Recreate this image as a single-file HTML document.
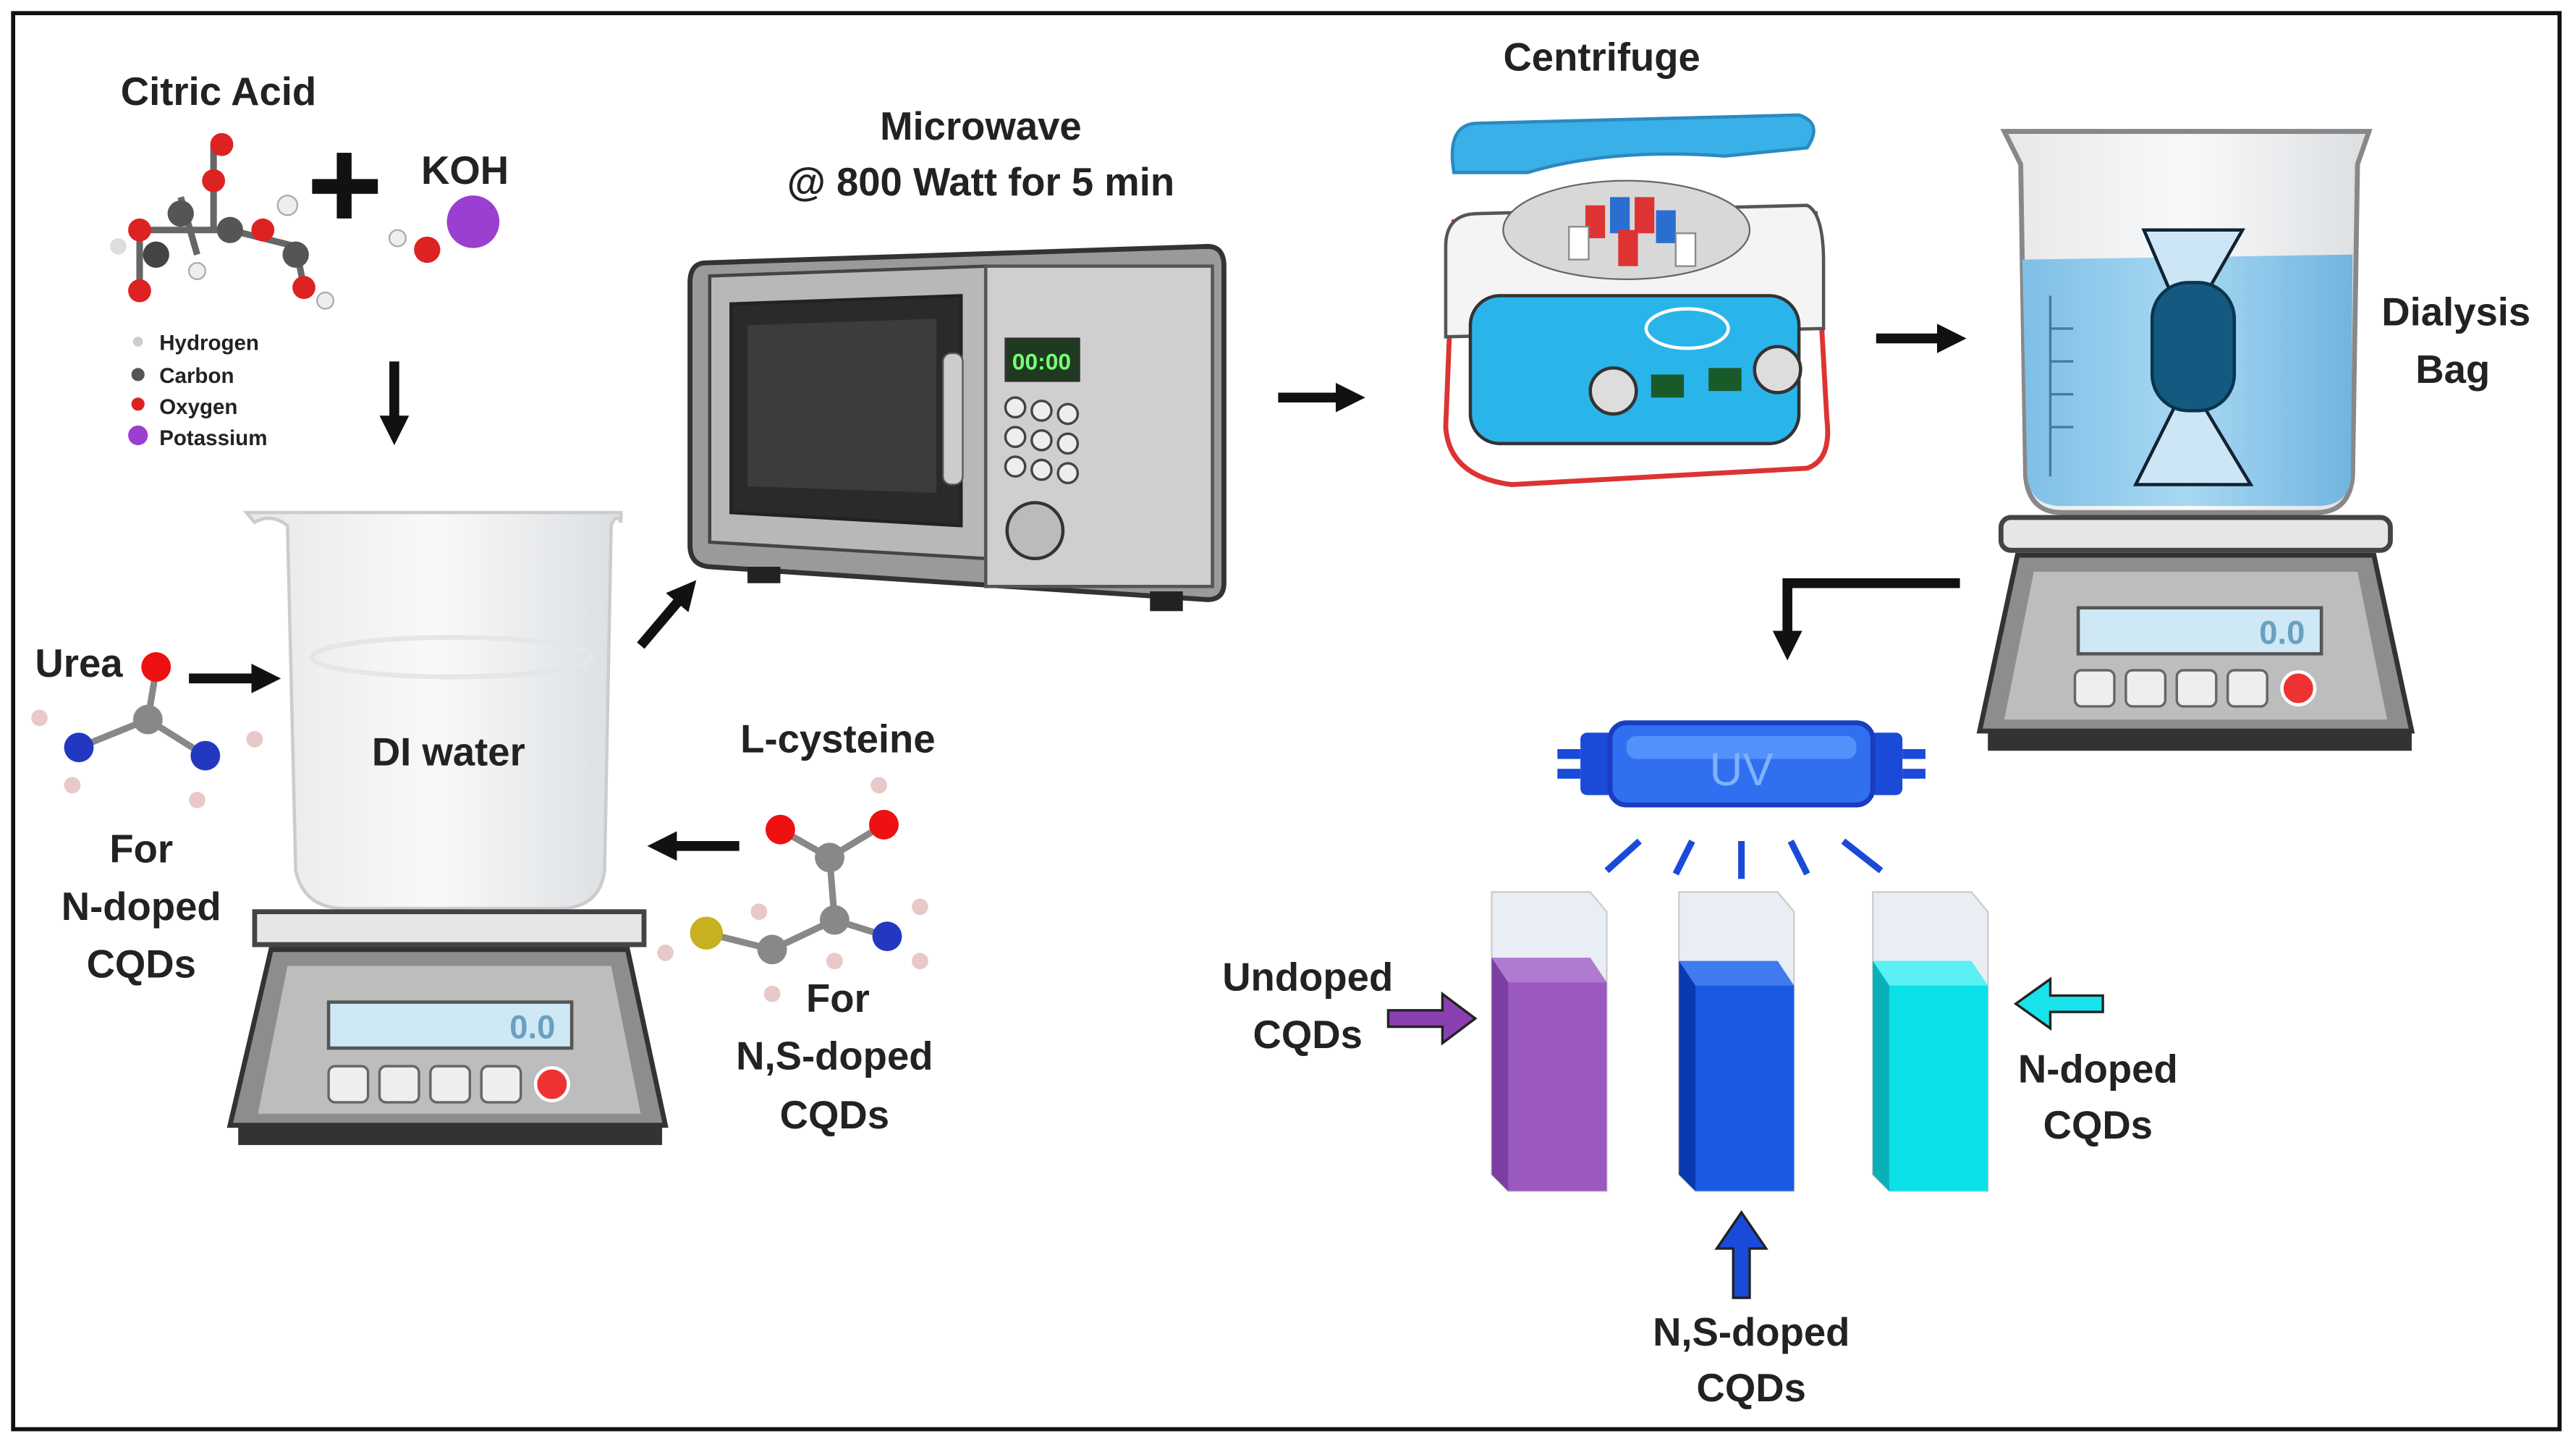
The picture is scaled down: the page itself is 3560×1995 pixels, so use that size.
<!DOCTYPE html>
<html><head><meta charset="utf-8"><style>
html,body{margin:0;padding:0;background:#fff;}
svg{display:block;}
text{font-family:"Liberation Sans",sans-serif;font-weight:bold;fill:#222;}
</style></head><body>
<svg width="3560" height="1995" viewBox="0 0 1568 879" preserveAspectRatio="none" xmlns="http://www.w3.org/2000/svg">
<defs>
<marker id="ah" viewBox="0 0 10 10" refX="5" refY="5" markerWidth="3" markerHeight="3" orient="auto"><path d="M0,0L10,5L0,10z" fill="#111"/></marker>
<linearGradient id="glass" x1="0" x2="1"><stop offset="0" stop-color="#e6e8ea"/><stop offset=".5" stop-color="#f8f9fa"/><stop offset="1" stop-color="#dcdfe2"/></linearGradient>
<linearGradient id="water" x1="0" x2="1"><stop offset="0" stop-color="#7fbfe6"/><stop offset=".5" stop-color="#a8d8f2"/><stop offset="1" stop-color="#70b4df"/></linearGradient>
</defs>
<rect x="8" y="8" width="1550" height="862" fill="#fff" stroke="#111" stroke-width="2.5"/>

<!-- Citric acid -->
<text x="133" y="64" font-size="24" text-anchor="middle">Citric Acid</text>
<text x="283" y="112" font-size="24" text-anchor="middle">KOH</text>
<rect x="190" y="109" width="40" height="9" fill="#111"/><rect x="205" y="93" width="9" height="40" fill="#111"/>
<g stroke="#666" stroke-width="4">
<line x1="85" y1="140" x2="140" y2="140"/><line x1="110" y1="120" x2="120" y2="155"/><line x1="140" y1="140" x2="180" y2="150"/><line x1="130" y1="88" x2="130" y2="140"/><line x1="85" y1="140" x2="85" y2="175"/><line x1="180" y1="150" x2="185" y2="175"/>
</g>
<g>
<circle cx="135" cy="88" r="7" fill="#d22"/><circle cx="130" cy="110" r="7" fill="#d22"/><circle cx="110" cy="130" r="8" fill="#555"/><circle cx="140" cy="140" r="8" fill="#555"/><circle cx="85" cy="140" r="7" fill="#d22"/><circle cx="95" cy="155" r="8" fill="#444"/><circle cx="85" cy="177" r="7" fill="#d22"/><circle cx="160" cy="140" r="7" fill="#d22"/><circle cx="175" cy="125" r="6" fill="#eee" stroke="#aaa"/><circle cx="180" cy="155" r="8" fill="#555"/><circle cx="185" cy="175" r="7" fill="#d22"/><circle cx="198" cy="183" r="5" fill="#eee" stroke="#aaa"/><circle cx="120" cy="165" r="5" fill="#eee" stroke="#aaa"/><circle cx="72" cy="150" r="5" fill="#ddd"/>
<circle cx="288" cy="135" r="16" fill="#9b3fd0"/><circle cx="260" cy="152" r="8" fill="#d22"/><circle cx="242" cy="145" r="5" fill="#eee" stroke="#aaa"/>
</g>
<g font-size="13"><circle cx="84" cy="208" r="3" fill="#ccc"/><text x="97" y="213" font-size="13">Hydrogen</text>
<circle cx="84" cy="228" r="4" fill="#555"/><text x="97" y="233" font-size="13">Carbon</text>
<circle cx="84" cy="246" r="4" fill="#d22"/><text x="97" y="252" font-size="13">Oxygen</text>
<circle cx="84" cy="265" r="6" fill="#9b3fd0"/><text x="97" y="271" font-size="13">Potassium</text></g>
<line x1="240" y1="220" x2="240" y2="262" stroke="#111" stroke-width="6" marker-end="url(#ah)"/>

<!-- Beaker 1 + scale -->
<path d="M155,318 Q165,312 175,320 L180,530 Q185,553 210,553 L340,553 Q365,553 368,530 L372,320 Q375,312 378,318 L378,312 L150,312 Z" fill="url(#glass)" stroke="#ccc" stroke-width="2"/>
<ellipse cx="275" cy="400" rx="85" ry="12" fill="none" stroke="#e4e6e8" stroke-width="3"/>
<text x="273" y="466" font-size="24" text-anchor="middle">DI water</text>
<path d="M155,555 L392,555 L392,575 L155,575 Z" fill="#e6e6e6" stroke="#444" stroke-width="3" rx="5"/>
<path d="M165,578 L382,578 L405,685 L140,685 Z" fill="#8d8d8d" stroke="#333" stroke-width="3"/>
<rect x="145" y="685" width="258" height="12" fill="#333"/>
<path d="M175,588 L372,588 L390,678 L157,678 Z" fill="#bdbdbd"/>
<rect x="200" y="610" width="148" height="28" fill="#cfe8f5" stroke="#555" stroke-width="2"/>
<text x="338" y="632" font-size="20" text-anchor="end" fill="#7ab" style="fill:#6aa0c0">0.0</text>
<g fill="#eee" stroke="#666" stroke-width="1.5"><rect x="200" y="649" width="24" height="22" rx="4"/><rect x="231" y="649" width="24" height="22" rx="4"/><rect x="262" y="649" width="24" height="22" rx="4"/><rect x="293" y="649" width="24" height="22" rx="4"/></g>
<circle cx="336" cy="660" r="10" fill="#e33" stroke="#fff" stroke-width="2"/>

<!-- Urea -->
<text x="48" y="412" font-size="24" text-anchor="middle">Urea</text>
<line x1="115" y1="413" x2="162" y2="413" stroke="#111" stroke-width="6" marker-end="url(#ah)"/>
<g stroke="#888" stroke-width="4"><line x1="95" y1="408" x2="90" y2="438"/><line x1="90" y1="438" x2="48" y2="455"/><line x1="90" y1="438" x2="125" y2="460"/></g>
<circle cx="95" cy="406" r="9" fill="#e11"/><circle cx="90" cy="438" r="9" fill="#888"/><circle cx="48" cy="455" r="9" fill="#2238c0"/><circle cx="125" cy="460" r="9" fill="#2238c0"/>
<g fill="#e8c8c8"><circle cx="24" cy="437" r="5"/><circle cx="44" cy="478" r="5"/><circle cx="120" cy="487" r="5"/><circle cx="155" cy="450" r="5"/></g>
<text x="86" y="525" font-size="24" text-anchor="middle">For</text>
<text x="86" y="560" font-size="24" text-anchor="middle">N-doped</text>
<text x="86" y="595" font-size="24" text-anchor="middle">CQDs</text>

<!-- L-cysteine -->
<text x="510" y="458" font-size="24" text-anchor="middle">L-cysteine</text>
<line x1="450" y1="515" x2="403" y2="515" stroke="#111" stroke-width="6" marker-end="url(#ah)"/>
<g stroke="#888" stroke-width="4"><line x1="430" y1="568" x2="470" y2="578"/><line x1="470" y1="578" x2="508" y2="560"/><line x1="508" y1="560" x2="505" y2="522"/><line x1="505" y1="522" x2="475" y2="505"/><line x1="505" y1="522" x2="538" y2="502"/><line x1="508" y1="560" x2="540" y2="570"/></g>
<circle cx="430" cy="568" r="10" fill="#c8b020"/><circle cx="470" cy="578" r="9" fill="#888"/><circle cx="508" cy="560" r="9" fill="#888"/><circle cx="505" cy="522" r="9" fill="#888"/><circle cx="475" cy="505" r="9" fill="#e11"/><circle cx="538" cy="502" r="9" fill="#e11"/><circle cx="540" cy="570" r="9" fill="#2238c0"/>
<g fill="#e8c8c8"><circle cx="405" cy="580" r="5"/><circle cx="470" cy="605" r="5"/><circle cx="462" cy="555" r="5"/><circle cx="508" cy="585" r="5"/><circle cx="560" cy="552" r="5"/><circle cx="560" cy="585" r="5"/><circle cx="535" cy="478" r="5"/></g>
<text x="510" y="616" font-size="24" text-anchor="middle">For</text>
<text x="508" y="651" font-size="24" text-anchor="middle">N,S-doped</text>
<text x="508" y="687" font-size="24" text-anchor="middle">CQDs</text>

<line x1="390" y1="393" x2="418" y2="360" stroke="#111" stroke-width="6" marker-end="url(#ah)"/>

<!-- Microwave -->
<text x="597" y="85" font-size="24" text-anchor="middle">Microwave</text>
<text x="597" y="119" font-size="24" text-anchor="middle">@ 800 Watt for 5 min</text>
<path d="M430,160 L735,150 Q745,150 745,162 L745,355 Q745,365 735,365 L432,345 Q420,344 420,332 L420,172 Q420,160 430,160Z" fill="#9a9a9a" stroke="#333" stroke-width="3"/>
<path d="M432,168 L600,162 L600,340 L432,330Z" fill="#b8b8b8" stroke="#444" stroke-width="2"/>
<path d="M445,185 L585,180 L585,320 L445,312Z" fill="#2a2a2a" stroke="#222" stroke-width="2"/>
<path d="M455,198 L570,194 L570,300 L455,296Z" fill="#3c3c3c"/>
<rect x="574" y="215" width="12" height="80" rx="5" fill="#ccc" stroke="#555"/>
<rect x="600" y="162" width="138" height="195" fill="#cfcfcf" stroke="#555" stroke-width="2"/>
<rect x="612" y="206" width="45" height="26" fill="#1f3a1f" stroke="#333"/>
<text x="634" y="225" font-size="14" text-anchor="middle" style="fill:#7f7">00:00</text>
<g fill="#eee" stroke="#444" stroke-width="1.5"><circle cx="618" cy="248" r="6"/><circle cx="634" cy="250" r="6"/><circle cx="650" cy="252" r="6"/><circle cx="618" cy="266" r="6"/><circle cx="634" cy="268" r="6"/><circle cx="650" cy="270" r="6"/><circle cx="618" cy="284" r="6"/><circle cx="634" cy="286" r="6"/><circle cx="650" cy="288" r="6"/></g>
<circle cx="630" cy="323" r="17" fill="#bbb" stroke="#333" stroke-width="2"/>
<rect x="455" y="345" width="20" height="10" fill="#222"/><rect x="700" y="360" width="20" height="12" fill="#222"/>

<line x1="778" y1="242" x2="822" y2="242" stroke="#111" stroke-width="6" marker-end="url(#ah)"/>

<!-- Centrifuge -->
<text x="975" y="43" font-size="24" text-anchor="middle">Centrifuge</text>
<path d="M885,135 L880,260 Q882,290 920,295 L1100,285 Q1115,280 1112,255 L1105,130Z" fill="#fff" stroke="#d33" stroke-width="3"/>
<path d="M880,150 Q880,130 900,130 L1100,125 Q1110,130 1110,160 L1110,200 L880,205Z" fill="#f4f4f4" stroke="#555" stroke-width="2"/>
<ellipse cx="990" cy="140" rx="75" ry="30" fill="#d8d8d8" stroke="#666"/>
<g><rect x="965" y="125" width="12" height="20" fill="#d33"/><rect x="980" y="120" width="12" height="22" fill="#2a6fd0"/><rect x="995" y="120" width="12" height="22" fill="#d33"/><rect x="1008" y="128" width="12" height="20" fill="#2a6fd0"/><rect x="985" y="140" width="12" height="22" fill="#d33"/><rect x="955" y="138" width="12" height="20" fill="#fff" stroke="#888"/><rect x="1020" y="142" width="12" height="20" fill="#fff" stroke="#888"/></g>
<path d="M885,105 Q880,75 900,75 L1095,70 Q1110,75 1100,90 L1050,95 Q980,90 930,105 Z" fill="#3ab0e8" stroke="#2a8ac0" stroke-width="2"/>
<rect x="895" y="180" width="200" height="90" rx="18" fill="#2ab5ea" stroke="#333" stroke-width="2"/>
<ellipse cx="1027" cy="200" rx="25" ry="12" fill="none" stroke="#fff" stroke-width="2"/>
<circle cx="982" cy="238" r="14" fill="#ddd" stroke="#333" stroke-width="2"/><circle cx="1082" cy="225" r="14" fill="#ddd" stroke="#333" stroke-width="2"/>
<rect x="1005" y="228" width="20" height="14" fill="#1a5a2a"/><rect x="1040" y="224" width="20" height="14" fill="#1a5a2a"/>

<line x1="1142" y1="206" x2="1188" y2="206" stroke="#111" stroke-width="6" marker-end="url(#ah)"/>

<!-- Beaker 2 -->
<path d="M1220,80 L1442,80 L1435,100 L1432,290 Q1430,312 1410,312 L1255,312 Q1235,312 1233,290 L1230,100Z" fill="url(#glass)" stroke="#888" stroke-width="3"/>
<path d="M1231,158 L1432,155 L1431,290 Q1430,308 1410,308 L1255,308 Q1236,308 1234,290Z" fill="url(#water)"/>
<g stroke="#4a7a9a" stroke-width="1.5" fill="none"><path d="M1248,180 L1248,290 M1248,200 L1262,200 M1248,220 L1262,220 M1248,240 L1262,240 M1248,260 L1262,260"/></g>
<path d="M1305,140 L1365,140 L1345,175 L1340,245 L1370,295 L1300,295 L1325,245 L1320,175Z" fill="#cde6f5" stroke="#123" stroke-width="2"/>
<rect x="1310" y="172" width="50" height="78" rx="22" fill="#145a80" stroke="#0a3550" stroke-width="2"/>
<text x="1495" y="198" font-size="24" text-anchor="middle">Dialysis</text>
<text x="1493" y="233" font-size="24" text-anchor="middle">Bag</text>
<rect x="1218" y="315" width="237" height="20" rx="6" fill="#e6e6e6" stroke="#444" stroke-width="3"/>
<path d="M1228,338 L1445,338 L1468,445 L1205,445 Z" fill="#8d8d8d" stroke="#333" stroke-width="3"/>
<rect x="1210" y="445" width="258" height="12" fill="#333"/>
<path d="M1238,348 L1435,348 L1453,438 L1220,438 Z" fill="#bdbdbd"/>
<rect x="1265" y="370" width="148" height="28" fill="#cfe8f5" stroke="#555" stroke-width="2"/>
<text x="1403" y="392" font-size="20" text-anchor="end" style="fill:#6aa0c0">0.0</text>
<g fill="#eee" stroke="#666" stroke-width="1.5"><rect x="1263" y="408" width="24" height="22" rx="4"/><rect x="1294" y="408" width="24" height="22" rx="4"/><rect x="1325" y="408" width="24" height="22" rx="4"/><rect x="1356" y="408" width="24" height="22" rx="4"/></g>
<circle cx="1399" cy="419" r="10" fill="#e33" stroke="#fff" stroke-width="2"/>

<polyline points="1193,355 1088,355 1088,393" fill="none" stroke="#111" stroke-width="6" marker-end="url(#ah)"/>

<!-- UV lamp -->
<rect x="948" y="456" width="14" height="6" fill="#1a4ad8"/><rect x="948" y="468" width="14" height="6" fill="#1a4ad8"/>
<rect x="1158" y="456" width="14" height="6" fill="#1a4ad8"/><rect x="1158" y="468" width="14" height="6" fill="#1a4ad8"/>
<rect x="962" y="446" width="20" height="38" rx="4" fill="#1a4ad8"/><rect x="1138" y="446" width="20" height="38" rx="4" fill="#1a4ad8"/>
<rect x="980" y="440" width="160" height="50" rx="10" fill="#2f6ff0" stroke="#1a3cc0" stroke-width="3"/>
<rect x="990" y="448" width="140" height="14" rx="6" fill="#6aa8ff" opacity=".6"/>
<text x="1060" y="478" font-size="28" text-anchor="middle" style="fill:#7fb2ff;font-weight:normal">UV</text>
<g stroke="#1a4ad8" stroke-width="4"><line x1="998" y1="512" x2="978" y2="530"/><line x1="1030" y1="512" x2="1020" y2="532"/><line x1="1060" y1="512" x2="1060" y2="535"/><line x1="1090" y1="512" x2="1100" y2="532"/><line x1="1122" y1="512" x2="1145" y2="530"/></g>

<!-- Cuvettes -->
<g>
<path d="M908,543 L968,543 L978,555 L978,725 L918,725 L908,715Z" fill="#e8eef3" stroke="#ccc"/>
<path d="M908,583 L968,583 L978,598 L978,725 L918,725 L908,715Z" fill="#9b59c0"/>
<path d="M908,583 L968,583 L978,598 L918,598Z" fill="#b07ad0"/><path d="M908,583 L918,598 L918,725 L908,715Z" fill="#7a3fa0"/>
<path d="M1022,543 L1082,543 L1092,555 L1092,725 L1032,725 L1022,715Z" fill="#e8eef3" stroke="#ccc"/>
<path d="M1022,585 L1082,585 L1092,600 L1092,725 L1032,725 L1022,715Z" fill="#1a5ae0"/>
<path d="M1022,585 L1082,585 L1092,600 L1032,600Z" fill="#3f7af0"/><path d="M1022,585 L1032,600 L1032,725 L1022,715Z" fill="#0a3ab0"/>
<path d="M1140,543 L1200,543 L1210,555 L1210,725 L1150,725 L1140,715Z" fill="#e8eef3" stroke="#ccc"/>
<path d="M1140,585 L1200,585 L1210,600 L1210,725 L1150,725 L1140,715Z" fill="#0ae0e8"/>
<path d="M1140,585 L1200,585 L1210,600 L1150,600Z" fill="#5af0f4"/><path d="M1140,585 L1150,600 L1150,725 L1140,715Z" fill="#08b0b8"/>
</g>
<text x="796" y="603" font-size="24" text-anchor="middle">Undoped</text>
<text x="796" y="638" font-size="24" text-anchor="middle">CQDs</text>
<path d="M845,615 L878,615 L878,605 L898,620 L878,635 L878,625 L845,625Z" fill="#8a3fb0" stroke="#222" stroke-width="1.5"/>
<path d="M1280,606 L1248,606 L1248,596 L1227,611 L1248,626 L1248,616 L1280,616Z" fill="#19e3ea" stroke="#222" stroke-width="1.5"/>
<text x="1277" y="659" font-size="24" text-anchor="middle">N-doped</text>
<text x="1277" y="693" font-size="24" text-anchor="middle">CQDs</text>
<path d="M1055,790 L1055,760 L1045,760 L1060,738 L1075,760 L1065,760 L1065,790Z" fill="#1a4ad8" stroke="#222" stroke-width="1.5"/>
<text x="1066" y="819" font-size="24" text-anchor="middle">N,S-doped</text>
<text x="1066" y="853" font-size="24" text-anchor="middle">CQDs</text>
</svg>
</body></html>
